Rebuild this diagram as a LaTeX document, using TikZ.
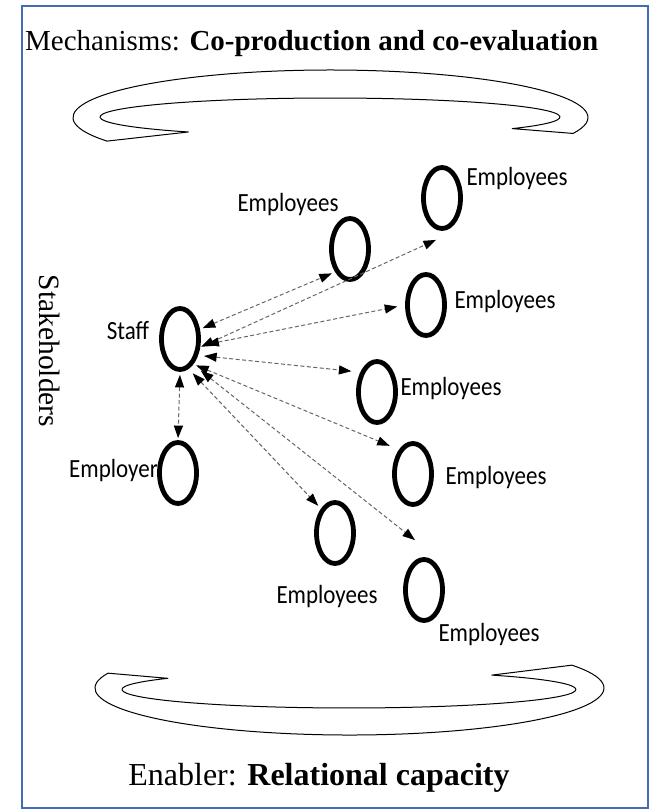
\documentclass[tikz,border=0pt]{standalone}
\usepackage{fontspec}
\usepackage{graphicx}
\setmainfont{Liberation Serif}
\newfontfamily\tagfont{Carlito}
\usetikzlibrary{positioning,shapes.geometric,arrows.meta}
\definecolor{frameblue}{RGB}{68,108,182}
\newcommand\tall[1]{\scalebox{1}[1.14]{#1}}
\tikzset{
  person/.style = {ellipse, draw, line width=4.8pt, minimum width=37pt,
                   minimum height=61pt, inner sep=0pt},
  tag/.style    = {font=\tagfont\fontsize{23}{26}\selectfont, inner sep=0pt},
  link/.style   = {<->, dash pattern=on 4pt off 2.5pt, line width=1pt,
                   black!60},
  band/.style   = {draw, line width=1pt, line join=round}
}
\begin{document}
\begin{tikzpicture}[x=1pt,y=-1pt,>={Triangle[length=12.5pt,width=9pt,color=black]}]
  \useasboundingbox (0,0) rectangle (658,811);
  \draw[frameblue, line width=2pt] (22,6) rectangle (648,808);

  % headings
  \node[anchor=base west, inner sep=0pt, font=\fontsize{29}{34}\selectfont]
    (mech) at (25,50) {Mechanisms: \textbf{Co-production and co-evaluation}};
  \node[anchor=base, inner sep=0pt, font=\fontsize{32}{38}\selectfont]
    (enabler) at (319,785) {Enabler: \textbf{Relational capacity}};
  \node[rotate=-90, inner sep=0pt, font=\fontsize{29.5}{34}\selectfont]
    (stake) at (50,351) {Stakeholders};

  % curved arrows
  \draw[band] (330.5,117.5) ++(150.2:257.5 and 47.5)
    arc[start angle=150.2, end angle=379.6, x radius=257.5, y radius=47.5]
    -- (512.2,128.6)
    arc[start angle=397.6, end angle=128, x radius=230, y radius=19]
    -- cycle;
  \draw[band] (349.5,688) ++(198.4:254.5 and 47)
    arc[start angle=198.4, end angle=-29.1, x radius=254.5, y radius=47]
    -- (491.8,675.1)
    arc[start angle=-51, end angle=217.1, x radius=227, y radius=18.5]
    -- cycle;

  % stakeholders
  \node[person] (staff)    at (180,339) {};
  \node[person] (employer) at (178,473) {};
  \node[person] (emp1)     at (350,249) {};
  \node[person] (emp2)     at (442,198) {};
  \node[person] (emp3)     at (426,305) {};
  \node[person] (emp4)     at (377,392) {};
  \node[person] (emp5)     at (413,474) {};
  \node[person] (emp6)     at (335,533) {};
  \node[person] (emp7)     at (424,590) {};

  \node[tag] (staff-tag)    at (128,331) {\tall{Staff}};
  \node[tag] (employer-tag) at (113.5,471) {\tall{Employer}};
  \node[tag] (emp1-tag)     at (288,205) {\tall{Employees}};
  \node[tag] (emp2-tag)     at (517,179) {\tall{Employees}};
  \node[tag] (emp3-tag)     at (505,302) {\tall{Employees}};
  \node[tag] (emp4-tag)     at (451,389) {\tall{Employees}};
  \node[tag] (emp5-tag)     at (496,478) {\tall{Employees}};
  \node[tag] (emp6-tag)     at (327,597) {\tall{Employees}};
  \node[tag] (emp7-tag)     at (489,635) {\tall{Employees}};

  % relations
  \draw[link, shorten <=3pt, shorten >=3.5pt] (staff.26) -- (emp1.237);
  \draw[link, shorten <=1pt] (staff.-22) -- ([xshift=-6pt,yshift=-9pt]emp2.south);
  \draw[link, shorten <=6pt, shorten >=8pt] (staff.-18) -- (emp3.180);
  \draw[link, shorten <=6pt, shorten >=9pt] (staff.-42) -- (emp4.130);
  \draw[link, shorten <=3pt, shorten >=10pt] (staff.-62) -- (emp5.120);
  \draw[link, shorten <=6pt, shorten >=4pt] (staff.-74) -- (emp6.120);
  \draw[link, shorten <=10pt] (staff.-63) -- ([xshift=-9pt,yshift=17pt]emp7.north);
  \draw[link, shorten <=3pt, shorten >=2pt] (staff.south) -- (employer.north);
\end{tikzpicture}
\end{document}
